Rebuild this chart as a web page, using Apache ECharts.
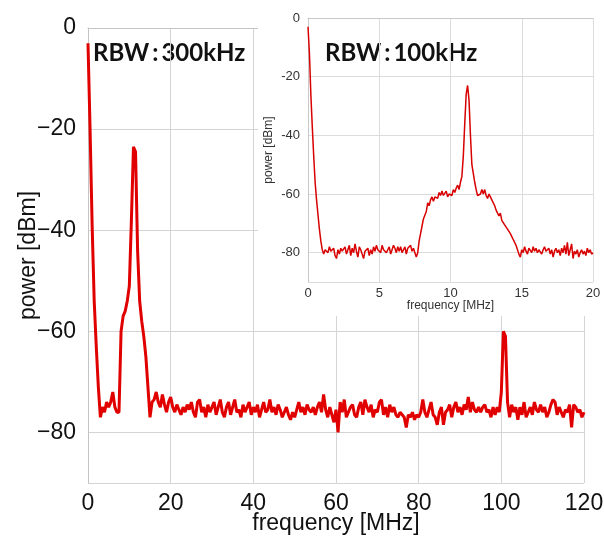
<!DOCTYPE html>
<html>
<head>
<meta charset="utf-8">
<script src="https://cdn.jsdelivr.net/npm/echarts@6/dist/echarts.min.js"></script>
<style>
	html, body {margin: 0; padding: 0; background: #fff;}
	#main {position: absolute; left: 0; top: 0; width: 604px; height: 540px;}
	#inset {position: absolute; left: 258px; top: 0; width: 346px; height: 316px; background: #fff;}
</style>
</head>
<body>
<div id="main"></div>
<div id="inset"></div>
<script>
// main trace, RBW 300kHz, one value every 0.5 MHz from 0 to 120 MHz
const mainStart = 0, mainStep = 0.5;
const mainPower = [
	-3, -20, -39, -54, -63, -71, -77, -75, -76, -74,
	-75, -74, -72, -75, -76, -76, -60, -57, -56, -54,
	-51, -38, -23.5, -24.5, -44, -54, -58, -61, -65, -71,
	-77, -74, -73.5, -72, -74, -75, -72.5, -74.5, -76, -74,
	-73, -75, -76, -74.5, -75.5, -76.5, -75, -76, -74.5, -75.5,
	-74, -76, -77, -74, -73.5, -76, -75, -77, -74.5, -76,
	-75, -74, -76.5, -75, -73.5, -76, -77, -75, -74, -76.5,
	-75, -73.5, -76, -75.5, -77, -74.5, -76, -75, -74, -76.5,
	-75, -76, -74.5, -77, -75.5, -74, -76, -75.5, -73.5, -76,
	-75, -76.5, -74.5, -75.5, -77, -76, -75, -76.5, -77.5, -76,
	-77, -75.5, -74, -76, -75, -76.5, -74.5, -75.5, -76, -75,
	-76.5, -75, -74, -76, -72.5, -75.5, -77, -75, -76.5, -78,
	-75.5, -80, -74, -76, -73.5, -77, -76, -75, -74.5, -76.5,
	-77, -75, -74, -76.5, -73.5, -75, -76, -74.5, -77, -75.5,
	-76, -74, -73.5, -76.5, -75, -77, -74.5, -76, -75, -76.5,
	-77, -76, -76.5, -77, -79, -76.5, -77, -76, -77.5, -76.5,
	-77, -76, -73.5, -76, -77, -75.5, -74, -76.5, -77, -78.5,
	-76, -75, -78.5, -76, -75.5, -74.5, -77, -75, -74, -76,
	-75, -76.5, -74.5, -75.5, -73, -76, -74, -75.5, -76, -75,
	-76, -75, -74.5, -76, -75.5, -77, -75, -76.5, -75, -76,
	-72, -60, -61, -74, -77, -74.5, -76, -75, -77.5, -75,
	-76.5, -74, -77, -76, -75, -76.5, -74, -75.5, -76, -74.5,
	-76, -75, -77, -76, -74.5, -73.5, -74, -76.5, -75, -76,
	-77, -75.5, -76, -74.5, -79, -74.5, -75, -76, -75.5, -77,
	-76
];

// inset trace, RBW 100kHz, one value every 0.1 MHz from 0 to 20 MHz
const insetStart = 0, insetStep = 0.1;
const insetPower = [
	-3, -12, -26, -37, -47, -56, -62, -67, -72, -76,
	-79, -80.5, -79, -78.5, -80, -78, -79.5, -80, -78.5, -81,
	-82, -79, -80.5, -78.5, -79.5, -80, -78, -80.5, -79, -77.5,
	-81, -78.5, -80, -77, -79.5, -81.5, -78, -79, -80.5, -82,
	-79.5, -80, -78.5, -81, -79, -80.5, -78, -79.5, -77.5, -79,
	-78.5, -80, -77.5, -79, -78.5, -80, -79, -78, -80.5, -79,
	-77.5, -78.5, -80, -78, -79.5, -78, -80, -79, -78, -80.5,
	-78.5, -79, -77.5, -79.5, -78.5, -80, -81.5, -80, -76, -73.5,
	-71, -68.5, -69, -66, -63, -64, -62, -61, -62.5, -61,
	-60.5, -61.5, -59.5, -60.5, -59, -60.5, -60, -59, -61, -60,
	-59.5, -60.5, -58.5, -59.5, -58, -57, -58.5, -56, -54, -47,
	-36, -26, -23, -28, -40, -50, -53, -56, -58.5, -60.5,
	-61, -60, -58.5, -60, -58.5, -60.5, -61.5, -60, -61, -62,
	-62.5, -64, -65.5, -65, -67.5, -66.5, -69, -68.5, -70.5, -70,
	-72, -71.5, -73.5, -73, -75.5, -75, -77.5, -78, -80.5, -81.5,
	-79, -80, -78, -79.5, -80.5, -78.5, -79, -80, -78, -79.5,
	-78.5, -80, -79, -78.5, -80.5, -79, -78, -79.5, -80, -78.5,
	-80.5, -79, -81.5, -79.5, -78.5, -80, -79, -81, -78.5, -80,
	-77.5, -80.5, -76.5, -81, -79, -77, -82, -79.5, -80.5, -79,
	-81.5, -80, -79, -80.5, -79.5, -81, -78.5, -80, -79, -80.5,
	-80
];

const mainXTicks = [0, 120, 20];
const insetXTicks = [0, 20, 5];
const powerRange = [-90, 0];

function Pairs(start, step, values) {
	return values.map(function (v, i) {
		return [+(start + i * step).toFixed(2), v];
	});
}

function YLabel(minus) {
	return function (v) {
		if (v % 20 !== 0) return '';
		return v < 0 ? minus + Math.abs(v) : String(v);
	};
}

const mainChart = echarts.init(document.getElementById('main'));
mainChart.setOption({
	animation: false,
	textStyle: {fontFamily: 'Liberation Sans'},
	grid: {left: 88, top: 28, right: 20, bottom: 57, outerBoundsMode: 'none', containLabel: false},
	xAxis: {
		type: 'value', min: mainXTicks[0], max: mainXTicks[1], interval: mainXTicks[2],
		name: 'frequency [MHz]', nameLocation: 'middle', nameGap: 29, nameMoveOverlap: false,
		nameTextStyle: {fontSize: 23, color: '#111'},
		axisLine: {lineStyle: {color: '#c4c4c4'}}, axisTick: {show: false},
		axisLabel: {fontSize: 23, color: '#111', margin: 9},
		splitLine: {lineStyle: {color: '#d4d4d4'}}
	},
	yAxis: {
		type: 'value', min: powerRange[0], max: powerRange[1],
		name: 'power [dBm]', nameLocation: 'middle', nameGap: 48, nameMoveOverlap: false,
		nameTextStyle: {fontSize: 23, color: '#111'},
		axisLine: {show: true, lineStyle: {color: '#c4c4c4'}}, axisTick: {show: false},
		axisLabel: {fontSize: 23, color: '#111', margin: 12, formatter: YLabel('\u2212')},
		splitLine: {lineStyle: {color: '#d4d4d4'}}
	},
	graphic: [{
		type: 'text', left: 93, top: 41,
		style: {text: 'RBW\u2009:\u2009300kHz', font: 'bold 24px Lato', fill: '#111'}
	}],
	series: [{
		type: 'line', showSymbol: false, data: Pairs(mainStart, mainStep, mainPower),
		lineStyle: {color: '#e00000', width: 3}
	}]
});

const insetChart = echarts.init(document.getElementById('inset'));
insetChart.setOption({
	animation: false,
	textStyle: {fontFamily: 'Liberation Sans'},
	grid: {left: 50, top: 18, right: 11, bottom: 34, outerBoundsMode: 'none', containLabel: false},
	xAxis: {
		type: 'value', min: insetXTicks[0], max: insetXTicks[1], interval: insetXTicks[2],
		name: 'frequency [MHz]', nameLocation: 'middle', nameGap: 18, nameMoveOverlap: false,
		nameTextStyle: {fontSize: 12, color: '#333'},
		axisLine: {lineStyle: {color: '#c8c8c8'}}, axisTick: {show: false},
		axisLabel: {fontSize: 13, color: '#333', margin: 5},
		splitLine: {lineStyle: {color: '#dcdcdc'}}
	},
	yAxis: {
		type: 'value', min: powerRange[0], max: powerRange[1],
		name: 'power [dBm]', nameLocation: 'middle', nameGap: 33, nameMoveOverlap: false,
		nameTextStyle: {fontSize: 12, color: '#333'},
		axisLine: {show: true, lineStyle: {color: '#c8c8c8'}}, axisTick: {show: false},
		axisLabel: {fontSize: 13, color: '#333', margin: 8, formatter: YLabel('-')},
		splitLine: {lineStyle: {color: '#dcdcdc'}}
	},
	graphic: [{
		type: 'text', left: 67, top: 41,
		style: {text: 'RBW\u2009:\u2009100kHz', font: 'bold 24px Lato', fill: '#111'}
	}],
	series: [{
		type: 'line', showSymbol: false, data: Pairs(insetStart, insetStep, insetPower),
		lineStyle: {color: '#d80000', width: 1.5}
	}]
});
</script>
</body>
</html>
